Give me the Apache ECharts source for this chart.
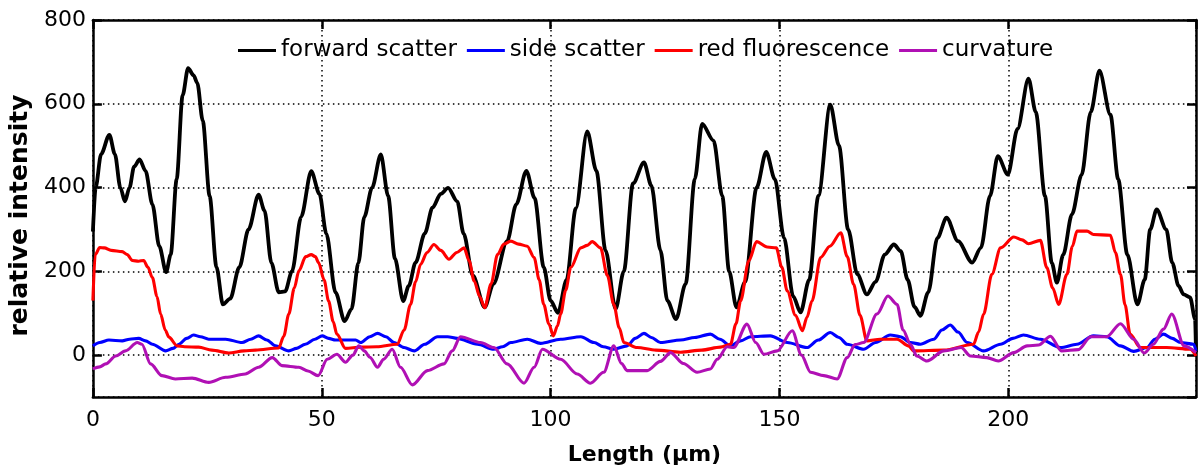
<!DOCTYPE html>
<html>
<head>
<meta charset="utf-8">
<script src="https://cdn.jsdelivr.net/npm/echarts@6/dist/echarts.min.js"></script>
<style>
html,body{margin:0;padding:0;background:#fff;}
#chart{width:1198px;height:471px;}
</style>
</head>
<body>
<div id="chart"></div>
<script>
// ---- data (x in µm, y relative intensity) ----
var seriesNames = ['forward scatter', 'side scatter', 'red fluorescence', 'curvature'];
var seriesColors = ['#000000', '#0000ff', '#ff0000', '#b010b4'];

var forwardScatter = [[0,295],[0.6,400],[1.8,480],[3.6,526],[4.8,480],[6,400],[7,367],[8,400],[9,450],[10.2,467],[11.5,440],[13,360],[14.5,260],[16,198],[17,240],[18.3,420],[19.6,620],[20.8,685],[22,668],[22.8,650],[24,560],[25.5,380],[27,210],[28.4,121],[30,135],[32,210],[34,300],[36.2,383],[37.5,345],[39,220],[40.6,150],[42,152],[43.5,200],[45.5,330],[47.7,439],[49.5,385],[51,290],[53,150],[55,81],[56.5,110],[58,220],[59.3,330],[61,400],[62.9,479],[64.5,380],[66,230],[67.8,129],[69,165],[70.5,221],[72.5,290],[74.2,352],[76,385],[77.6,399],[79.6,367],[81,290],[83,190],[85.6,114],[87.5,170],[90.5,272],[92.5,360],[94.7,440],[96.5,375],[98.5,210],[100,130],[101.6,101],[103.5,180],[105.5,350],[108,534],[110,440],[112,250],[114.2,110],[116,200],[118,410],[120.4,460],[122,405],[124,250],[125.5,130],[127.4,86],[129.5,170],[131.5,420],[133.1,552],[135.6,512],[137.5,380],[139,200],[140.6,114],[142.5,175],[145,400],[147.1,485],[149,420],[151,280],[153,140],[154.6,102],[156.5,180],[158.5,380],[161.1,598],[163,500],[165,300],[167,193],[169.1,145],[171,175],[173,240],[175,264],[176.5,248],[178,180],[179.5,115],[180.8,94],[182.5,150],[184.5,280],[186.5,328],[189,272],[192.1,221],[194,256],[196,380],[197.7,475],[199.9,431],[202,540],[204.4,660],[206,580],[208,380],[209.5,220],[210.6,173],[212,240],[213.9,336],[216,430],[218,580],[219.9,679],[222.3,574],[224,420],[226,240],[228.2,121],[229.8,180],[231,300],[232.4,348],[234.5,300],[235.8,221],[237.2,165],[238.3,145],[239.7,138],[240.8,86],[241,7]];

var sideScatter = [[0,22],[1.5,30],[3.5,36],[6.4,34],[8,38],[10,40],[11.5,34],[13,26],[15.9,10],[17.5,16],[18.8,26],[20.5,40],[22,48],[23.5,44],[25.3,38],[29,38],[32.6,30],[34.5,38],[36.2,46],[38,36],[39.9,22],[42.8,10],[44.5,16],[46.4,26],[48.5,38],[50.1,46],[51.5,40],[53,36],[57.4,36],[58.5,30],[60.5,44],[62.2,52],[64,44],[65.8,30],[68,18],[70.2,10],[72.5,26],[75.3,44],[77.5,44],[79.6,40],[84,26],[87.6,14],[89.5,20],[91.3,30],[94.9,38],[97.8,28],[102.2,38],[106.6,44],[109.5,30],[111.5,20],[113.8,14],[116.7,22],[118.5,40],[120.4,52],[122,42],[124,30],[128.4,36],[131.5,42],[134.9,50],[137,38],[139.3,22],[141.5,34],[143.7,44],[148,46],[151.7,30],[156,18],[158.5,36],[161.1,54],[163,42],[164.8,26],[168.4,14],[171,30],[174.2,48],[176.4,44],[178.6,30],[180.8,26],[183.7,38],[185.5,60],[187.3,72],[189,55],[191,30],[194.6,10],[198.3,26],[201,40],[203.3,48],[207,38],[211.4,18],[215,26],[218.6,46],[221.5,44],[224.5,22],[227.4,9],[230.3,18],[232,38],[233.9,50],[235.8,40],[237.6,30],[240.5,26],[241,10]];

var redFluorescence = [[0,130],[0.5,240],[1.5,257],[2.5,256],[4,250],[6.4,247],[7.5,240],[8.6,226],[10,224],[11.1,226],[12,210],[13,185],[14,140],[14.8,98],[15.8,60],[16.6,43],[18.4,22],[20,20],[23.1,19],[26,12],[29.7,5],[33,10],[35.5,12],[40.6,17],[41.7,45],[42.8,98],[44,160],[45,201],[46.5,235],[47.7,240],[48.6,235],[49.3,221],[50.5,180],[51.5,129],[52.5,80],[53.3,50],[55.2,16],[58.5,19],[62,20],[66.5,26],[68,60],[69.4,121],[70.5,175],[71.6,217],[73,245],[74.5,264],[76,250],[77.8,229],[79.5,245],[81.1,256],[82.2,225],[83.3,177],[84.5,140],[85.6,113],[87,170],[88.4,240],[89.8,265],[91.3,272],[93,265],[94.9,260],[96.4,233],[97.5,180],[98.5,121],[99.6,75],[100.6,46],[101.5,70],[102.2,98],[103.3,155],[104.4,209],[106.6,256],[108,262],[109.1,271],[110.9,256],[112.4,190],[113.8,121],[115,65],[116,30],[118.9,18],[123,12],[128.4,7],[133,12],[137.1,19],[139.3,26],[140.5,75],[141.5,129],[143.3,225],[145,271],[147.3,258],[149.3,256],[150.5,210],[151.7,153],[153.5,95],[155,58],[156,90],[157.1,129],[159,233],[161,260],[163.4,292],[164.8,235],[166.2,169],[167.6,95],[169.1,34],[172,38],[175.7,38],[178.2,22],[179.3,10],[185.9,12],[192.4,26],[193.5,55],[194.6,98],[196.4,193],[198.3,256],[201.2,282],[203,275],[204.4,266],[207,274],[208.4,209],[209.7,160],[211,121],[212.8,193],[214,260],[215,296],[217.2,296],[218.6,288],[222.3,286],[223.4,245],[224.5,193],[225.5,120],[226.6,50],[228.8,18],[234.6,18],[239.7,14],[241,-2]];

var curvature = [[0,-33],[1.5,-28],[2.8,-21],[5,-2],[7.1,10],[9.7,30],[10.7,26],[12.6,-21],[15.1,-49],[18,-57],[21.7,-55],[25.3,-65],[29,-53],[33.3,-45],[36.2,-29],[39.2,-6],[41.3,-25],[45,-29],[47,-38],[49.2,-49],[51.2,-10],[53.3,2],[55.2,-17],[56.8,0],[58.1,22],[59.3,10],[60.5,-5],[62.2,-29],[63.5,-10],[65.4,14],[67.2,-29],[69.8,-71],[73.1,-37],[76.7,-21],[78.5,10],[80.3,44],[84.7,30],[87.6,18],[90.5,-21],[94.2,-67],[96.4,-29],[98.2,14],[102.2,-10],[105.8,-45],[108.7,-67],[111.6,-41],[113.8,22],[115.5,-20],[116.7,-37],[121.1,-37],[124,-15],[126.2,6],[129,-20],[132,-41],[134.9,-33],[136.4,-10],[138.6,20],[140,18],[142.9,74],[144.8,30],[146.6,2],[149.5,10],[152.8,58],[154.8,0],[156.8,-41],[159.7,-49],[162.6,-57],[164.8,-6],[166.5,25],[168.4,30],[171.3,98],[173.7,141],[175.7,121],[177,60],[178.6,26],[180,-2],[182.2,-14],[185.9,10],[189.7,18],[191.7,-2],[195.3,-6],[197.8,-14],[201.2,6],[204.1,22],[206.6,24],[209.2,45],[211.6,10],[215.3,13],[218,44],[221.5,44],[224.5,75],[227.4,38],[229.7,5],[231.7,26],[233.9,62],[235.7,98],[238.4,22],[241,6]];

var xMin = 0, xMax = 241, xStep = 50;
var yMin = -100, yMax = 800;
var xTitle = 'Length (μm)';
var yTitle = 'relative intensity';

// ---- chart ----
var FONT = 'DejaVu Sans';
var chart = echarts.init(document.getElementById('chart'), null, {renderer: 'canvas'});
var allData = [forwardScatter, sideScatter, redFluorescence, curvature];
var widths = [3.8, 3.1, 3.1, 3.1];

var axisLineStyle = {color: '#000', width: 2.5};
var option = {
  animation: false,
  backgroundColor: '#fff',
  textStyle: {fontFamily: FONT},
  grid: {left: 92, right: 2, top: 20, bottom: 72, containLabel: false},
  legend: {
    data: seriesNames,
    left: 233, top: 34,
    icon: 'rect', itemWidth: 38, itemHeight: 3, itemGap: 10,
    textStyle: {fontFamily: FONT, fontSize: 23, color: '#000', padding: [0,0,0,0]},
    selectedMode: false
  },
  xAxis: [{
    type: 'value', min: xMin, max: xMax, interval: xStep,
    name: xTitle, nameLocation: 'middle', nameGap: 47,
    nameTextStyle: {fontFamily: FONT, fontSize: 22, fontWeight: 'bold', color: '#000'},
    axisLine: {show: true, onZero: false, lineStyle: axisLineStyle},
    axisTick: {show: true, inside: true, length: 9, lineStyle: axisLineStyle},
    axisLabel: {fontFamily: FONT, fontSize: 22, color: '#000', margin: 12, showMaxLabel: false},
    splitLine: {show: true, lineStyle: {color: '#000', width: 1.5, type: [1.5, 3.5]}}
  }, {
    type: 'value', min: xMin, max: xMax, interval: xStep, position: 'top',
    axisLine: {show: true, onZero: false, lineStyle: axisLineStyle},
    axisTick: {show: true, inside: true, length: 9, lineStyle: axisLineStyle},
    axisLabel: {show: false}, splitLine: {show: false}
  }],
  yAxis: [{
    type: 'value', min: yMin, max: yMax, splitNumber: 5,
    name: yTitle, nameLocation: 'middle', nameGap: 57,
    nameTextStyle: {fontFamily: FONT, fontSize: 25, fontWeight: 'bold', color: '#000', padding: [0, 14, 0, 0]},
    axisLine: {show: true, onZero: false, lineStyle: axisLineStyle},
    axisTick: {show: true, inside: true, length: 9, lineStyle: axisLineStyle},
    axisLabel: {fontFamily: FONT, fontSize: 22, color: '#000', margin: 7, showMinLabel: false},
    splitLine: {show: true, lineStyle: {color: '#000', width: 1.5, type: [1.5, 3.5]}}
  }, {
    type: 'value', min: yMin, max: yMax, splitNumber: 5, position: 'right',
    axisLine: {show: true, onZero: false, lineStyle: axisLineStyle},
    axisTick: {show: true, inside: true, length: 9, lineStyle: axisLineStyle},
    axisLabel: {show: false}, splitLine: {show: false}
  }],
  series: seriesNames.map(function (n, i) {
    return {
      name: n, type: 'line', data: allData[i],
      xAxisIndex: 0, yAxisIndex: 0,
      showSymbol: false, symbol: 'none',
      smooth: 0.3, smoothMonotone: 'x',
      color: seriesColors[i],
      lineStyle: {color: seriesColors[i], width: widths[i]},
      clip: true, z: 2 + i
    };
  })
};
chart.setOption(option);
</script>
</body>
</html>
